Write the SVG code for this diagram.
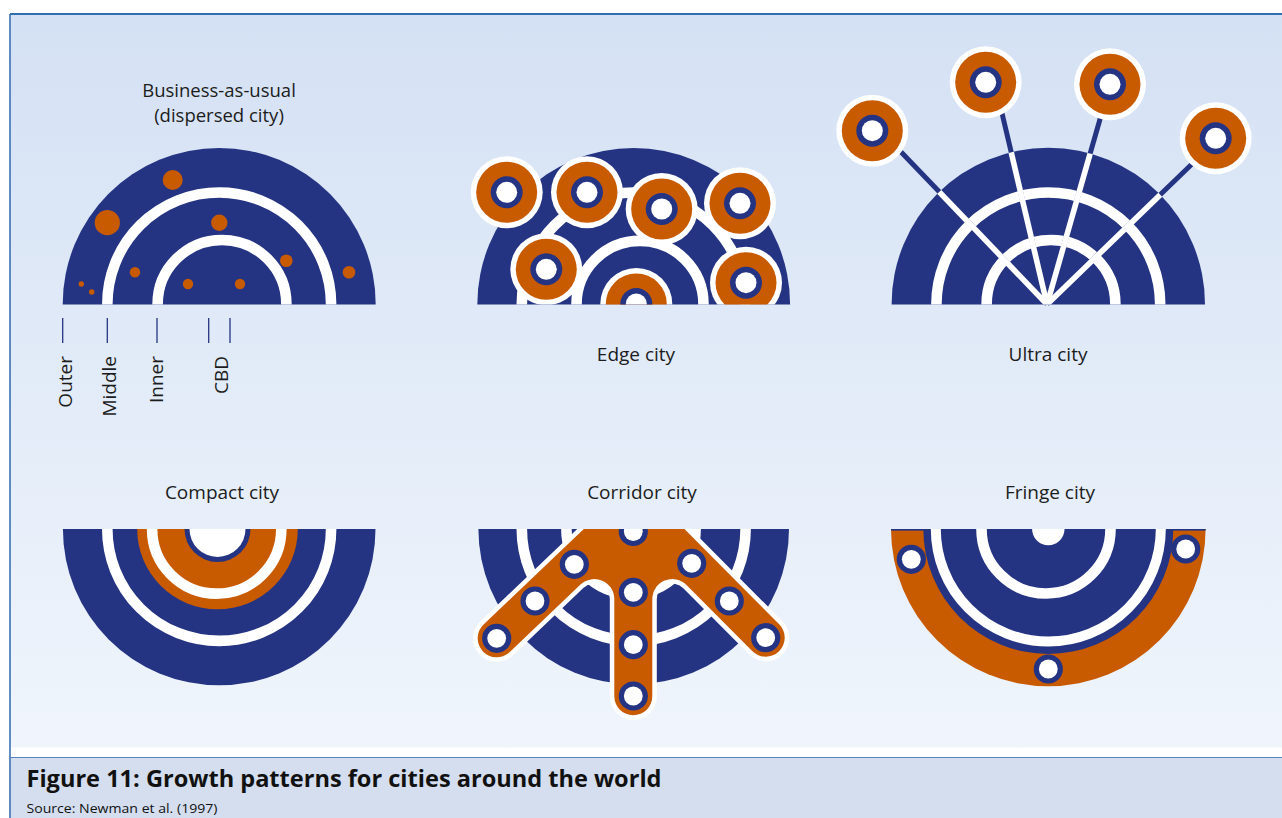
<svg xmlns="http://www.w3.org/2000/svg" width="1282" height="818" viewBox="0 0 1282 818">
<defs>
<linearGradient id="bg" x1="0" y1="0" x2="0" y2="1">
<stop offset="0" stop-color="#d4e1f4"/>
<stop offset="1" stop-color="#f0f5fc"/>
</linearGradient>
<clipPath id="up"><rect x="0" y="0" width="1282" height="304.4"/></clipPath>
<clipPath id="low"><rect x="0" y="529" width="1282" height="289"/></clipPath>
<clipPath id="ultraDisc"><path d="M891.6,304.4 A156.7,156.7 0 0 1 1205,304.4 Z"/></clipPath>
<g id="bignode">
<circle r="36" fill="#fff"/>
<circle r="30.5" fill="#c85a00"/>
<circle r="16" fill="#253482"/>
<circle r="10.5" fill="#fff"/>
</g>
<g id="smallnode">
<circle r="14.6" fill="#253482"/>
<circle r="9.4" fill="#fff"/>
</g>
</defs>
<style>
.blue{fill:#253482}
.orange{fill:#c85a00}
.ring{fill:none;stroke:#fff;stroke-width:10.6}
.lbl{font-family:"Open Sans","Liberation Sans",sans-serif;font-size:19px;fill:#1c1c1c}
.mid{text-anchor:middle}
.tick{stroke:#253482;stroke-width:1.3}
.cap{font-family:"Open Sans","Liberation Sans",sans-serif;fill:#111}
</style>

<!-- frame -->
<g id="frame">
<rect x="10" y="14" width="1272" height="733.5" fill="url(#bg)"/>
<rect x="10" y="757.5" width="1272" height="60.5" fill="#d4deef"/>
<line x1="10" y1="14" x2="1282" y2="14" stroke="#2f6fae" stroke-width="1.8"/>
<line x1="10" y1="14" x2="10" y2="818" stroke="#3a72b2" stroke-width="1.6"/>
<line x1="10" y1="757.5" x2="1282" y2="757.5" stroke="#5a84bd" stroke-width="1"/>
</g>

<!-- Business-as-usual -->
<g id="bau">
<g clip-path="url(#up)">
<circle cx="219.2" cy="304.4" r="156.5" class="blue"/>
<circle cx="219.2" cy="304.4" r="111.9" class="ring"/>
<circle cx="222" cy="304.4" r="64.4" class="ring"/>
</g>
<g class="orange">
<circle cx="172.7" cy="180" r="10"/>
<circle cx="107.3" cy="222.7" r="12.6"/>
<circle cx="219.3" cy="222.7" r="8.2"/>
<circle cx="135" cy="272.3" r="5.2"/>
<circle cx="286.3" cy="260.7" r="6.3"/>
<circle cx="349" cy="272.3" r="6.3"/>
<circle cx="188" cy="284" r="5.2"/>
<circle cx="240" cy="284" r="5.2"/>
<circle cx="81.3" cy="284" r="2.7"/>
<circle cx="91.7" cy="292" r="2.7"/>
</g>
<text class="lbl mid" x="219" y="97" style="font-size:18.5px">Business-as-usual</text>
<text class="lbl mid" x="219" y="122" style="font-size:18.5px">(dispersed city)</text>
<line class="tick" x1="62.7" y1="318" x2="62.7" y2="343"/>
<line class="tick" x1="107.3" y1="318" x2="107.3" y2="343"/>
<line class="tick" x1="157" y1="318" x2="157" y2="343"/>
<line class="tick" x1="208.7" y1="318" x2="208.7" y2="343"/>
<line class="tick" x1="230" y1="318" x2="230" y2="343"/>
<text class="lbl" text-anchor="end" transform="translate(72,356) rotate(-90)">Outer</text>
<text class="lbl" text-anchor="end" transform="translate(116,356) rotate(-90)">Middle</text>
<text class="lbl" text-anchor="end" transform="translate(162.7,356) rotate(-90)">Inner</text>
<text class="lbl" text-anchor="end" transform="translate(227.7,356) rotate(-90)">CBD</text>
</g>

<!-- Edge city -->
<g id="edge">
<g clip-path="url(#up)">
<circle cx="633.7" cy="304.4" r="156.4" class="blue"/>
<circle cx="633.7" cy="304.4" r="111.9" class="ring"/>
<circle cx="640" cy="304.4" r="63.5" class="ring"/>
<use href="#bignode" x="506.7" y="192.3"/>
<use href="#bignode" x="587" y="192.3"/>
<use href="#bignode" x="661.7" y="209"/>
<use href="#bignode" x="740" y="203.3"/>
<use href="#bignode" x="546.3" y="269.3"/>
<use href="#bignode" x="636.3" y="304"/>
<use href="#bignode" x="746" y="282.7"/>
</g>
<text class="lbl mid" x="636" y="361">Edge city</text>
</g>

<!-- Ultra city -->
<g id="ultra">
<g clip-path="url(#up)">
<circle cx="1048.3" cy="304.4" r="156.7" class="blue"/>
<circle cx="1048.3" cy="304.4" r="111.9" class="ring"/>
<circle cx="1051" cy="304.4" r="64.4" class="ring"/>
</g>
<text class="lbl mid" x="1048" y="361">Ultra city</text>
</g>

<g id="connectors">
<g stroke="#253482" stroke-width="5" fill="none">
<line x1="1047" y1="304" x2="890.5" y2="141"/>
<line x1="1047" y1="304" x2="998.9" y2="100"/>
<line x1="1047" y1="304" x2="1105.5" y2="100"/>
<line x1="1047" y1="304" x2="1206.5" y2="150"/>
</g>
<g stroke="#fff" stroke-width="5.6" fill="none" clip-path="url(#ultraDisc)">
<line x1="1047" y1="304.4" x2="890.5" y2="141"/>
<line x1="1047" y1="304.4" x2="998.9" y2="100"/>
<line x1="1047" y1="304.4" x2="1105.5" y2="100"/>
<line x1="1047" y1="304.4" x2="1206.5" y2="150"/>
</g>
</g>

<g id="ultra-sat1"><use href="#bignode" x="872.3" y="130.7"/></g>
<g id="ultra-sat2"><use href="#bignode" x="985.7" y="82.3"/></g>
<g id="ultra-sat3"><use href="#bignode" x="1110" y="84.3"/></g>
<g id="ultra-sat4"><use href="#bignode" x="1215.7" y="138.3"/></g>

<!-- Compact city -->
<g id="compact">
<g clip-path="url(#low)">
<circle cx="219.2" cy="529" r="156.3" class="blue"/>
<circle cx="219.2" cy="529" r="111.9" class="ring"/>
<circle cx="217.5" cy="529" r="80.3" class="orange"/>
<circle cx="216.7" cy="529" r="64.6" class="ring"/>
<circle cx="217.5" cy="529" r="33" class="blue"/>
<circle cx="217.5" cy="529" r="28" fill="#fff"/>
</g>
<text class="lbl mid" x="222" y="499">Compact city</text>
</g>

<!-- Corridor city -->
<g id="corridor">
<g clip-path="url(#low)">
<circle cx="633.7" cy="529" r="155.3" class="blue"/>
<circle cx="633.7" cy="529" r="111.9" class="ring"/>
<circle cx="631" cy="529" r="64.6" class="ring"/>
<path d="M614.2,500 L483.6,624.5 A19,19 0 0 0 509.8,652.1 L580.5,584.6 A20,20 0 0 1 614.3,599.1 L614.3,696.3 A19,19 0 0 0 652.3,696.3 L652.3,599.1 A20,20 0 0 1 686.5,585 L752.2,651.1 A19,19 0 0 0 779.2,624.3 L655.6,500 Z" fill="#fff" stroke="#fff" stroke-width="9" stroke-linejoin="round"/>
<path d="M614.2,500 L483.6,624.5 A19,19 0 0 0 509.8,652.1 L580.5,584.6 A20,20 0 0 1 614.3,599.1 L614.3,696.3 A19,19 0 0 0 652.3,696.3 L652.3,599.1 A20,20 0 0 1 686.5,585 L752.2,651.1 A19,19 0 0 0 779.2,624.3 L655.6,500 Z" class="orange"/>
<use href="#smallnode" x="633.3" y="531.5"/>
<use href="#smallnode" x="574.3" y="564.3"/>
<use href="#smallnode" x="535" y="601"/>
<use href="#smallnode" x="496.7" y="638.3"/>
<use href="#smallnode" x="691.7" y="563.3"/>
<use href="#smallnode" x="729.3" y="601"/>
<use href="#smallnode" x="765.7" y="637.7"/>
<use href="#smallnode" x="633.3" y="592.3"/>
<use href="#smallnode" x="633.3" y="644.7"/>
<use href="#smallnode" x="633.3" y="696"/>
</g>
<text class="lbl mid" x="642" y="499">Corridor city</text>
</g>

<!-- Fringe city -->
<g id="fringe">
<g clip-path="url(#low)">
<circle cx="1048.3" cy="529" r="157.3" class="orange"/>
<rect x="891" y="529" width="314.6" height="1.6" class="blue"/>
<circle cx="1048.3" cy="529" r="125" class="blue"/>
<circle cx="1048.3" cy="529" r="112.5" class="ring" style="stroke-width:10"/>
<circle cx="1046" cy="529" r="64.5" class="ring"/>
<circle cx="1048.3" cy="529" r="16.2" fill="#fff"/>
</g>
<use href="#smallnode" x="911.3" y="559.3"/>
<use href="#smallnode" x="1185.7" y="549"/>
<use href="#smallnode" x="1048.3" y="669"/>
<text class="lbl mid" x="1050" y="499">Fringe city</text>
</g>

<!-- Caption -->
<g id="caption">
<text class="cap" x="26.5" y="787" font-size="23" font-weight="700" textLength="635" lengthAdjust="spacingAndGlyphs">Figure 11: Growth patterns for cities around the world</text>
<text class="cap" x="26.5" y="812.5" font-size="13.5" textLength="191" lengthAdjust="spacingAndGlyphs">Source: Newman et al. (1997)</text>
</g>
</svg>
